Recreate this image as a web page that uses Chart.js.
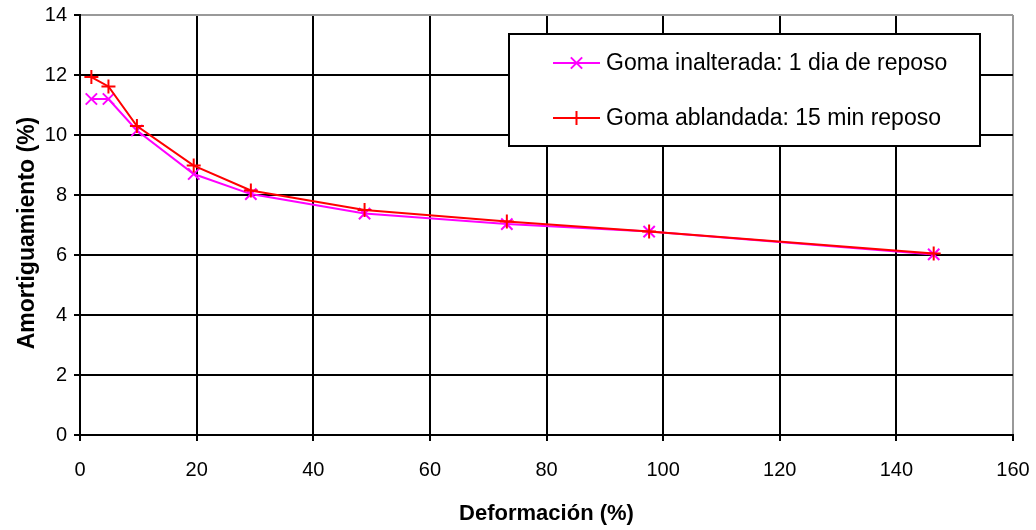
<!DOCTYPE html>
<html>
<head>
<meta charset="utf-8">
<script src="https://cdn.jsdelivr.net/npm/chart.js@4/dist/chart.umd.min.js"></script>
<style>
html,body{margin:0;padding:0;background:#fff;}
#wrap{width:1036px;height:530px;position:relative;}
</style>
</head>
<body>
<div id="wrap"><canvas id="c" width="1036" height="530"></canvas></div>
<script>
const deformacion = [1.95, 4.88, 9.76, 19.5, 29.3, 48.8, 73.2, 97.6, 146.4];
const inalterada = [11.2, 11.2, 10.15, 8.7, 8.03, 7.38, 7.03, 6.78, 6.02];
const ablandada = [11.93, 11.62, 10.3, 8.98, 8.15, 7.5, 7.12, 6.78, 6.05];
const labelInalterada = 'Goma inalterada: 1 dia de reposo';
const labelAblandada = 'Goma ablandada: 15 min reposo';
const xTitle = 'Deformación (%)';
const yTitle = 'Amortiguamiento (%)';

const FONT = "'Liberation Sans', Arial, sans-serif";

const legendBox = {
  id: 'legendBox',
  afterDatasetsDraw(chart) {
    const ctx = chart.ctx;
    const x0 = 509, y0 = 34, w = 471, h = 112;
    ctx.save();
    ctx.fillStyle = '#fff';
    ctx.fillRect(x0, y0, w, h);
    ctx.strokeStyle = '#000';
    ctx.lineWidth = 2;
    ctx.strokeRect(x0, y0, w, h);
    const rows = [63, 118];
    chart.data.datasets.forEach((ds, i) => {
      const y = rows[i];
      ctx.strokeStyle = ds.borderColor;
      ctx.lineWidth = 2;
      ctx.beginPath();
      ctx.moveTo(553, y);
      ctx.lineTo(600, y);
      ctx.stroke();
      Chart.helpers.drawPoint(ctx, {pointStyle: ds.pointStyle, radius: ds.pointRadius, borderWidth: 2}, 576.5, y);
      ctx.fillStyle = '#000';
      ctx.font = '23px ' + FONT;
      ctx.textBaseline = 'middle';
      ctx.textAlign = 'left';
      ctx.fillText(ds.label, 606, y + 1);
    });
    // y axis title
    ctx.translate(28, 233);
    ctx.rotate(-Math.PI / 2);
    ctx.font = 'bold 23px ' + FONT;
    ctx.fillStyle = '#000';
    ctx.textAlign = 'center';
    ctx.textBaseline = 'middle';
    ctx.fillText(yTitle, 0, 0);
    ctx.restore();
  }
};

new Chart(document.getElementById('c'), {
  type: 'scatter',
  data: {
    datasets: [
      {
        label: labelInalterada,
        data: deformacion.map((x, i) => ({x: x, y: inalterada[i]})),
        showLine: true,
        borderColor: '#FF00FF',
        backgroundColor: '#FF00FF',
        borderWidth: 2,
        pointStyle: 'crossRot',
        pointRadius: 8,
        pointBorderWidth: 2,
        order: 2
      },
      {
        label: labelAblandada,
        data: deformacion.map((x, i) => ({x: x, y: ablandada[i]})),
        showLine: true,
        borderColor: '#FF0000',
        backgroundColor: '#FF0000',
        borderWidth: 2,
        pointStyle: 'cross',
        pointRadius: 7,
        pointBorderWidth: 2,
        order: 1
      }
    ]
  },
  options: {
    responsive: false,
    animation: false,
    events: [],
    layout: {padding: {left: 0, right: 23, top: 15, bottom: 0}},
    plugins: {legend: {display: false}, tooltip: {enabled: false}},
    scales: {
      x: {
        type: 'linear',
        min: 0, max: 160,
        afterFit(s) { s.height = 95; s.paddingLeft = 0; s.paddingRight = 0; },
        ticks: {stepSize: 20, color: '#000', padding: 17, font: {family: FONT, size: 20}},
        grid: {
          color: c => (c.tick && c.tick.value === 160) ? '#999' : '#000',
          lineWidth: 2,
          tickLength: 6,
          tickColor: '#000'
        },
        border: {color: '#000', width: 2},
        title: {display: true, text: xTitle, color: '#000', font: {family: FONT, size: 22, weight: 'bold'}, padding: {top: 0, bottom: 3}}
      },
      y: {
        min: 0, max: 14,
        afterFit(s) { s.width = 80; s.paddingTop = 0; s.paddingBottom = 0; },
        ticks: {stepSize: 2, color: '#000', padding: 7, font: {family: FONT, size: 20}},
        grid: {
          color: c => (c.tick && c.tick.value === 14) ? '#999' : '#000',
          lineWidth: 2,
          tickLength: 6,
          tickColor: '#000'
        },
        border: {color: '#000', width: 2},
        title: {display: false}
      }
    }
  },
  plugins: [legendBox]
});
</script>
</body>
</html>
